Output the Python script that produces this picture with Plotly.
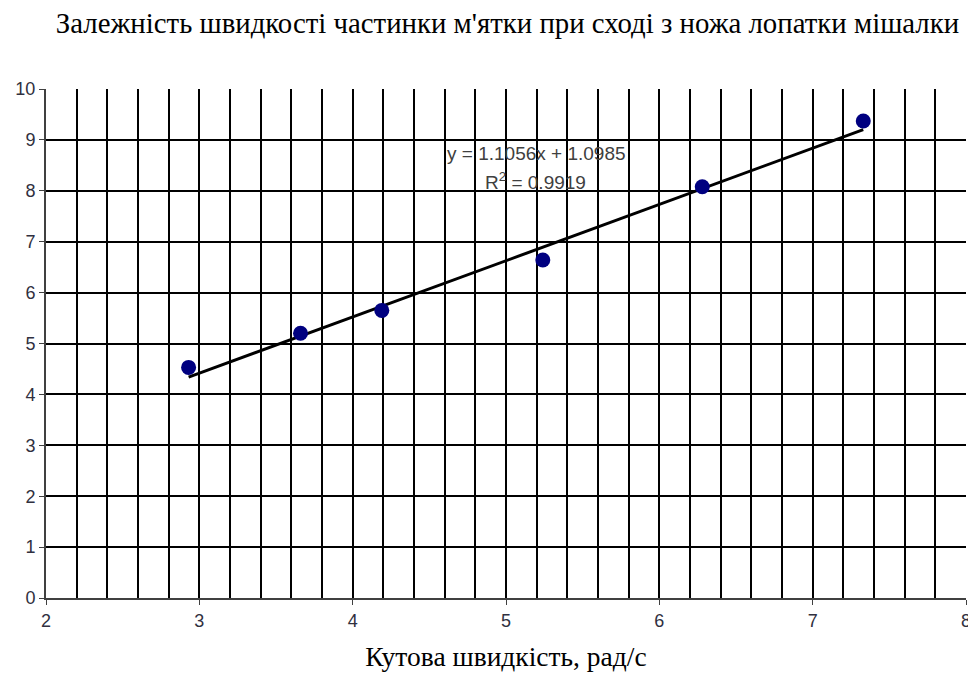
import plotly.graph_objects as go

# Data
omega = [2.93, 3.66, 4.19, 5.24, 6.28, 7.33]
velocity = [4.53, 5.20, 5.65, 6.64, 8.08, 9.37]
slope = 1.1056
intercept = 1.0985
r2 = 0.9919

title_text = "Залежність швидкості частинки м'ятки при сході з ножа лопатки мішалки"
x_title = "Кутова швидкість, рад/с"

trend_x = [min(omega), max(omega)]
trend_y = [slope * v + intercept for v in trend_x]

fig = go.Figure()
fig.add_trace(go.Scatter(x=trend_x, y=trend_y, mode="lines",
                         line=dict(color="black", width=3), showlegend=False,
                         hoverinfo="skip"))
fig.add_trace(go.Scatter(x=omega, y=velocity, mode="markers",
                         marker=dict(color="#000080", size=15), showlegend=False))

ann_font = dict(family="Liberation Sans", size=19, color="#404040")
fig.add_annotation(x=5.2, y=8.74, xref="x", yref="y",
                   text=f"y = {slope}x + {intercept}",
                   showarrow=False, xanchor="center", yanchor="middle", font=ann_font)
fig.add_annotation(x=5.19, y=8.19, xref="x", yref="y",
                   text=f"R<sup>2</sup> = {r2}",
                   showarrow=False, xanchor="center", yanchor="middle", font=ann_font)

fig.update_layout(
    width=968, height=664,
    margin=dict(l=38, r=10, t=81, b=74),
    paper_bgcolor="white", plot_bgcolor="white",
    title=dict(text=title_text, x=0.516, xanchor="center", y=0.978, yanchor="middle",
               font=dict(family="Liberation Serif", size=28.8, color="black")),
    font=dict(family="Liberation Sans", size=18, color="#303040"),
)

fig.update_xaxes(range=[2, 8], dtick=1, showgrid=True, gridcolor="black", gridwidth=1.5,
                 minor=dict(dtick=0.2, showgrid=True, gridcolor="black", gridwidth=1.5),
                 showline=True, linecolor="#404040", linewidth=2,
                 ticks="outside", ticklen=5, tickcolor="#404040",
                 zeroline=False, automargin=False,
                 title=dict(text=x_title, font=dict(family="Liberation Serif", size=27.5, color="black"),
                            standoff=22),
                 tickfont=dict(family="Liberation Sans", size=18, color="#303040"))
fig.update_yaxes(range=[0, 10], dtick=1, showgrid=True, gridcolor="black", gridwidth=1.5,
                 showline=True, linecolor="#404040", linewidth=2,
                 ticks="outside", ticklen=5, tickcolor="#404040",
                 zeroline=False, automargin=False,
                 tickfont=dict(family="Liberation Sans", size=18, color="#303040"))

fig.write_html("out.html")
